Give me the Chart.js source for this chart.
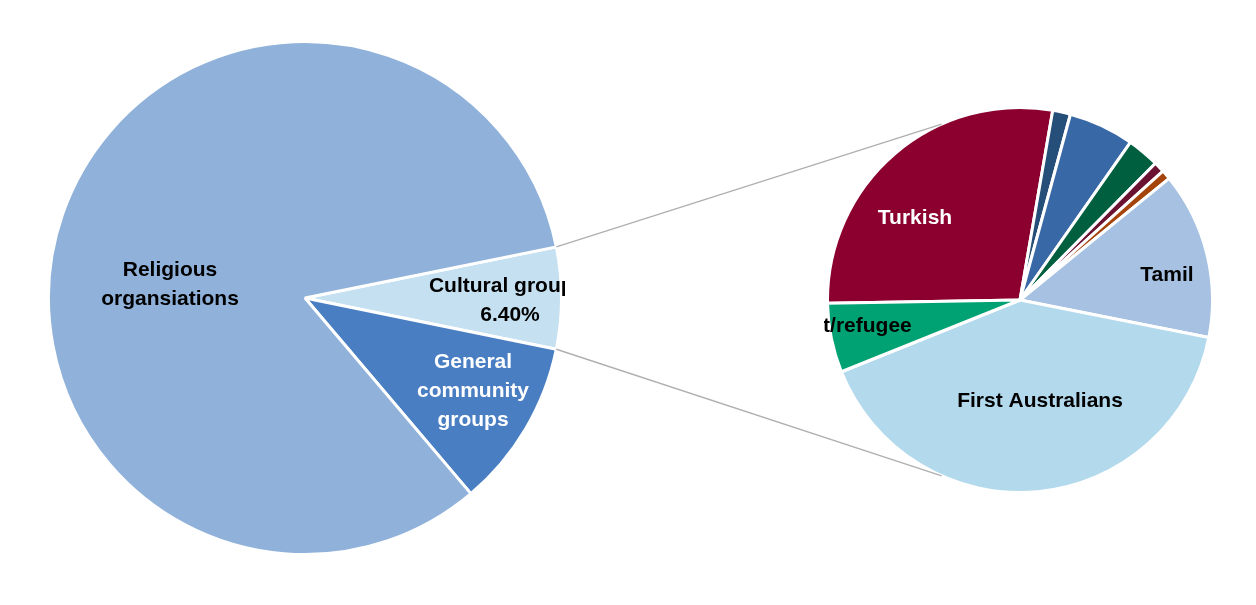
<!DOCTYPE html>
<html><head><meta charset="utf-8">
<script src="https://cdn.jsdelivr.net/npm/chart.js@4"></script>
<style>
body{margin:0;background:#fff;width:1256px;height:605px;position:relative;overflow:hidden}
canvas{position:absolute}
</style></head><body>
<canvas id="l" style="left:45px;top:38px;width:520px;height:520px" width="520" height="520"></canvas>
<canvas id="r" style="left:824px;top:104px;width:392px;height:392px" width="392" height="392"></canvas>
<canvas id="o" style="left:0;top:0;width:1256px;height:605px;pointer-events:none" width="1256" height="605"></canvas>
<script>
const mainLabels=["Cultural groups, 6.40%","General community groups","Religious organisations"];
const mainValues=[6.4,10.6,83.0];
const subLabels=["Turkish","","","","","","Tamil","First Australians","Migrant/refugee"];
const subValues=[28.0,1.5,5.5,2.7,0.9,0.8,14.0,40.8,5.8];

const mainColors=["#C5E0F0","#4A7EC2","#8FB1DA"];
const subColors=["#8B002F","#254E78","#3868A6","#005F3F","#6B1232","#A4440A","#A6C1E1","#B3D9EC","#00A173"];
const FONT="bold 21px 'Liberation Sans', Arial, sans-serif";
// label placement: [lines, dx, dy, color] relative to chart centre
const mainLabelPos=[[["Cultural groups,","6.40%"],205,3,"#000"],[["General","community","groups"],168,93,"#fff"],[["Religious","organsiations"],-135,-13,"#000"]];
const subLabelPos=[[["Turkish"],-105,-82,"#fff"],null,null,null,null,null,[["Tamil"],147,-25,"#000"],[["First Australians"],20,101,"#000"],[["Migrant/refugee"],-187,26,"#000"]];

function labelPlugin(pos){return{id:'lbl',afterDatasetsDraw(c){
  const ctx=c.ctx,a=c.getDatasetMeta(0).data[0];ctx.save();ctx.font=FONT;ctx.textAlign='center';ctx.textBaseline='middle';
  pos.forEach(p=>{if(!p)return;ctx.fillStyle=p[3];p[0].forEach((t,i)=>ctx.fillText(t,a.x+p[1],a.y+p[2]+(i-(p[0].length-1)/2)*29));});
  ctx.restore();}};}
const common={responsive:false,animation:false,plugins:{legend:{display:false},tooltip:{enabled:false}},layout:{padding:2}};
const L=new Chart(document.getElementById('l'),{type:'pie',data:{labels:mainLabels,datasets:[{data:mainValues,backgroundColor:mainColors,borderColor:'#fff',borderWidth:3}]},
 options:{...common,rotation:90-11.5}, plugins:[labelPlugin(mainLabelPos)]});
const R=new Chart(document.getElementById('r'),{type:'pie',data:{labels:subLabels,datasets:[{data:subValues,backgroundColor:subColors,borderColor:'#fff',borderWidth:3}]},
 options:{...common,rotation:269}, plugins:[labelPlugin(subLabelPos)]});
// connector lines
const a=L.getDatasetMeta(0).data[0], b=R.getDatasetMeta(0).data[0];
const ax=45+a.x, ay=38+a.y, bx=824+b.x, by=104+b.y, rr=b.outerRadius;
const ctx=document.getElementById('o').getContext('2d');
ctx.strokeStyle='#b0b0b0';ctx.lineWidth=1.5;
[[a.startAngle,-114],[a.endAngle,114]].forEach(([s,t])=>{
  const tr=t*Math.PI/180;ctx.beginPath();
  ctx.moveTo(ax+a.outerRadius*Math.cos(s),ay+a.outerRadius*Math.sin(s));
  ctx.lineTo(bx+rr*Math.cos(tr),by+rr*Math.sin(tr));ctx.stroke();});
</script></body></html>
